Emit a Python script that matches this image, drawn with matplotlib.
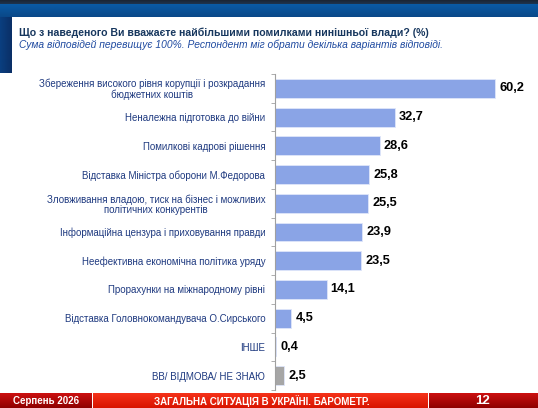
import matplotlib.pyplot as plt
import numpy as np
from matplotlib.patches import Rectangle

plt.rcParams['font.family'] = ['Liberation Sans', 'DejaVu Sans']

# --- дані ---
categories = [
    'Збереження високого рівня корупції і розкрадання\nбюджетних коштів',
    'Неналежна підготовка до війни',
    'Помилкові кадрові рішення',
    'Відставка Міністра оборони М.Федорова',
    'Зловживання владою, тиск на бізнес і можливих\nполітичних конкурентів',
    'Інформаційна цензура і приховування правди',
    'Неефективна економічна політика уряду',
    'Прорахунки на міжнародному рівні',
    'Відставка Головнокомандувача О.Сирського',
    'ІНШЕ',
    'ВВ/ ВІДМОВА/ НЕ ЗНАЮ',
]
values = [60.2, 32.7, 28.6, 25.8, 25.5, 23.9, 23.5, 14.1, 4.5, 0.4, 2.5]
value_labels = ['60,2', '32,7', '28,6', '25,8', '25,5', '23,9', '23,5', '14,1', '4,5', '0,4', '2,5']

title = 'Що з наведеного Ви вважаєте найбільшими помилками нинішньої влади? (%)'
subtitle = 'Сума відповідей перевищує 100%. Респондент міг обрати декілька варіантів відповіді.'
footer_left = 'Серпень 2026'
footer_mid = 'ЗАГАЛЬНА СИТУАЦІЯ В УКРАЇНІ. БАРОМЕТР.'
footer_right = '12'

W, H = 538, 408
fig = plt.figure(figsize=(W / 100, H / 100), dpi=100)

# фон слайда (координати в пікселях)
bg = fig.add_axes([0, 0, 1, 1], zorder=0)
bg.set_xlim(0, W)
bg.set_ylim(H, 0)
bg.axis('off')


def grad(ax, x0, x1, y0, y1, c_top, c_bot, horizontal=False):
    c_top = np.array(plt.matplotlib.colors.to_rgb(c_top))
    c_bot = np.array(plt.matplotlib.colors.to_rgb(c_bot))
    t = np.linspace(0, 1, 64)[:, None]
    img = c_top[None, :] * (1 - t) + c_bot[None, :] * t
    img = img[:, None, :]
    if horizontal:
        img = img.transpose(1, 0, 2)
    ax.imshow(img, extent=(x0, x1, y1, y0), aspect='auto', interpolation='bilinear')


grad(bg, 0, W, 0, 4, '#1b2433', '#1e3550')
grad(bg, 0, W, 4, 17, '#0a5ba6', '#0a4888')
grad(bg, 0, 12, 17, 73, '#0a3f80', '#0a2f66', horizontal=True)
bg.add_patch(Rectangle((12, 17), W - 12, 376, facecolor='white', edgecolor='none'))

# футер
grad(bg, 0, 92, 393, H, '#cc1010', '#8e0000')
grad(bg, 93, 428, 393, H, '#f5321a', '#d81400')
grad(bg, 429, W, 393, H, '#cc1010', '#8e0000')
bg.text(46, 401, footer_left, color='white', fontsize=7, fontweight='bold', ha='center', va='center')
bg.text(262, 401, footer_mid, color='white', fontsize=7, fontweight='bold', ha='center', va='center')
bg.text(483, 401, footer_right, color='white', fontsize=9.5, fontweight='bold', ha='center', va='center')

bg.text(19, 33, title, color='#17375e', fontsize=7.6, fontweight='bold', ha='left', va='center')
bg.text(19, 45, subtitle, color='#1f4aa0', fontsize=7.4, style='italic', ha='left', va='center')

# основний графік
ax = fig.add_axes([275 / W, 1 - 390 / H, (530 - 275) / W, (390 - 74) / H], zorder=1)
ax.patch.set_alpha(0)
y = np.arange(len(categories))
colors = ['#8aa4e6'] * (len(values) - 1) + ['#a6a6a6']
ax.barh(y, values, height=0.66, color=colors, edgecolor='#dfe6fa', linewidth=0.6)
ax.set_ylim(len(categories) - 0.5, -0.5)
ax.set_xlim(0, (530 - 275) / ((495 - 275) / 60.2))

for yi, v, lab in zip(y, values, value_labels):
    ax.annotate(lab, (v, yi), xytext=(3, 0), textcoords='offset points',
                ha='left', va='center', fontsize=9.2, fontweight='bold', color='black')

ax.set_yticks(y)
ax.set_yticklabels(categories, fontsize=7, color='#1f3a80', multialignment='center',
                   linespacing=1.0)
ax.tick_params(axis='y', which='major', length=0, pad=7)
ax.set_yticks(np.arange(-0.5, len(categories), 1), minor=True)
ax.tick_params(axis='y', which='minor', length=3, color='#a0a0a0', direction='out')
ax.set_xticks([])
for s in ['top', 'right', 'bottom']:
    ax.spines[s].set_visible(False)
ax.spines['left'].set_color('#a0a0a0')
ax.spines['left'].set_linewidth(0.8)

fig.savefig('out.png', dpi=100)
